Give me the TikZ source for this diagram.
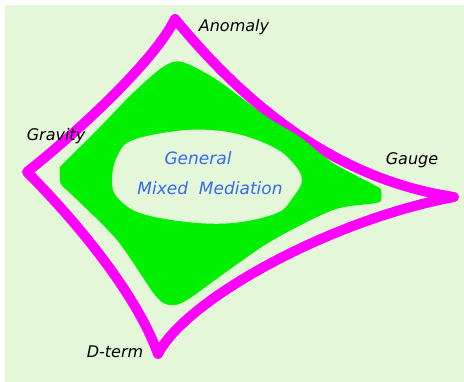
\documentclass[tikz,border=0pt]{standalone}
\usepackage{fontspec}
\usepackage{xcolor}
\usetikzlibrary{calc}
\newfontfamily\handfont{DejaVu Sans}
\definecolor{paper}{RGB}{228,247,216}
\definecolor{rim}{RGB}{255,0,255}
\definecolor{core}{RGB}{0,240,0}
\definecolor{penblue}{RGB}{55,105,240}
\tikzset{
  corner/.style={font=\handfont\itshape\fontsize{16}{18}\selectfont, text=black, inner sep=0pt},
  inside/.style={font=\handfont\itshape\fontsize{17}{20}\selectfont, text=penblue, inner sep=0pt}
}

\begin{document}
\begin{tikzpicture}[x=1pt,y=-1pt]
\useasboundingbox (0,0) rectangle (464,382);
%% paper
\fill[paper] (5,5) rectangle (464,382);
%% outer rim
\draw[rim, line width=10pt, line join=round]
  (175,19) .. controls (250,110) and (340,180) .. (454,197)
  .. controls (330,220) and (185,300) .. (158,354)
  .. controls (135,290) and (70,215) .. (27,172)
  .. controls (80,130) and (155,60) .. cycle;
%% green region
\fill[core] plot[smooth cycle, tension=0.5] coordinates {
  (182,62) (217,80) (267,117) (300,137) (333,163) (376,186)
  (381,191) (381,199) (376,203) (333,210) (273,240) (233,267)
  (187,300) (170,305) (155,295) (117,240) (70,193) (62,186)
  (60,181) (60,168) (63,164) (100,127) (133,93) (163,67)};
%% inner egg
\fill[paper] plot[smooth cycle, tension=0.6] coordinates {
  (133,140) (187,130) (233,133) (273,147) (293,163) (302,180)
  (293,197) (277,213) (233,223) (187,222) (140,213) (117,197)
  (112,180) (117,157)};
%% labels
\node[corner] (anomaly) at (234,27) {Anomaly};
\node[corner] (gravity) at (56,136) {Gravity};
\node[corner] (gauge) at (412,160) {Gauge};
\node[corner] (dterm) at (115,352) {D-term};
\node[inside] (general) at (198,158) {General};
\node[inside] (mixed) at (210,188) {Mixed\ \ Mediation};
\end{tikzpicture}
\end{document}
